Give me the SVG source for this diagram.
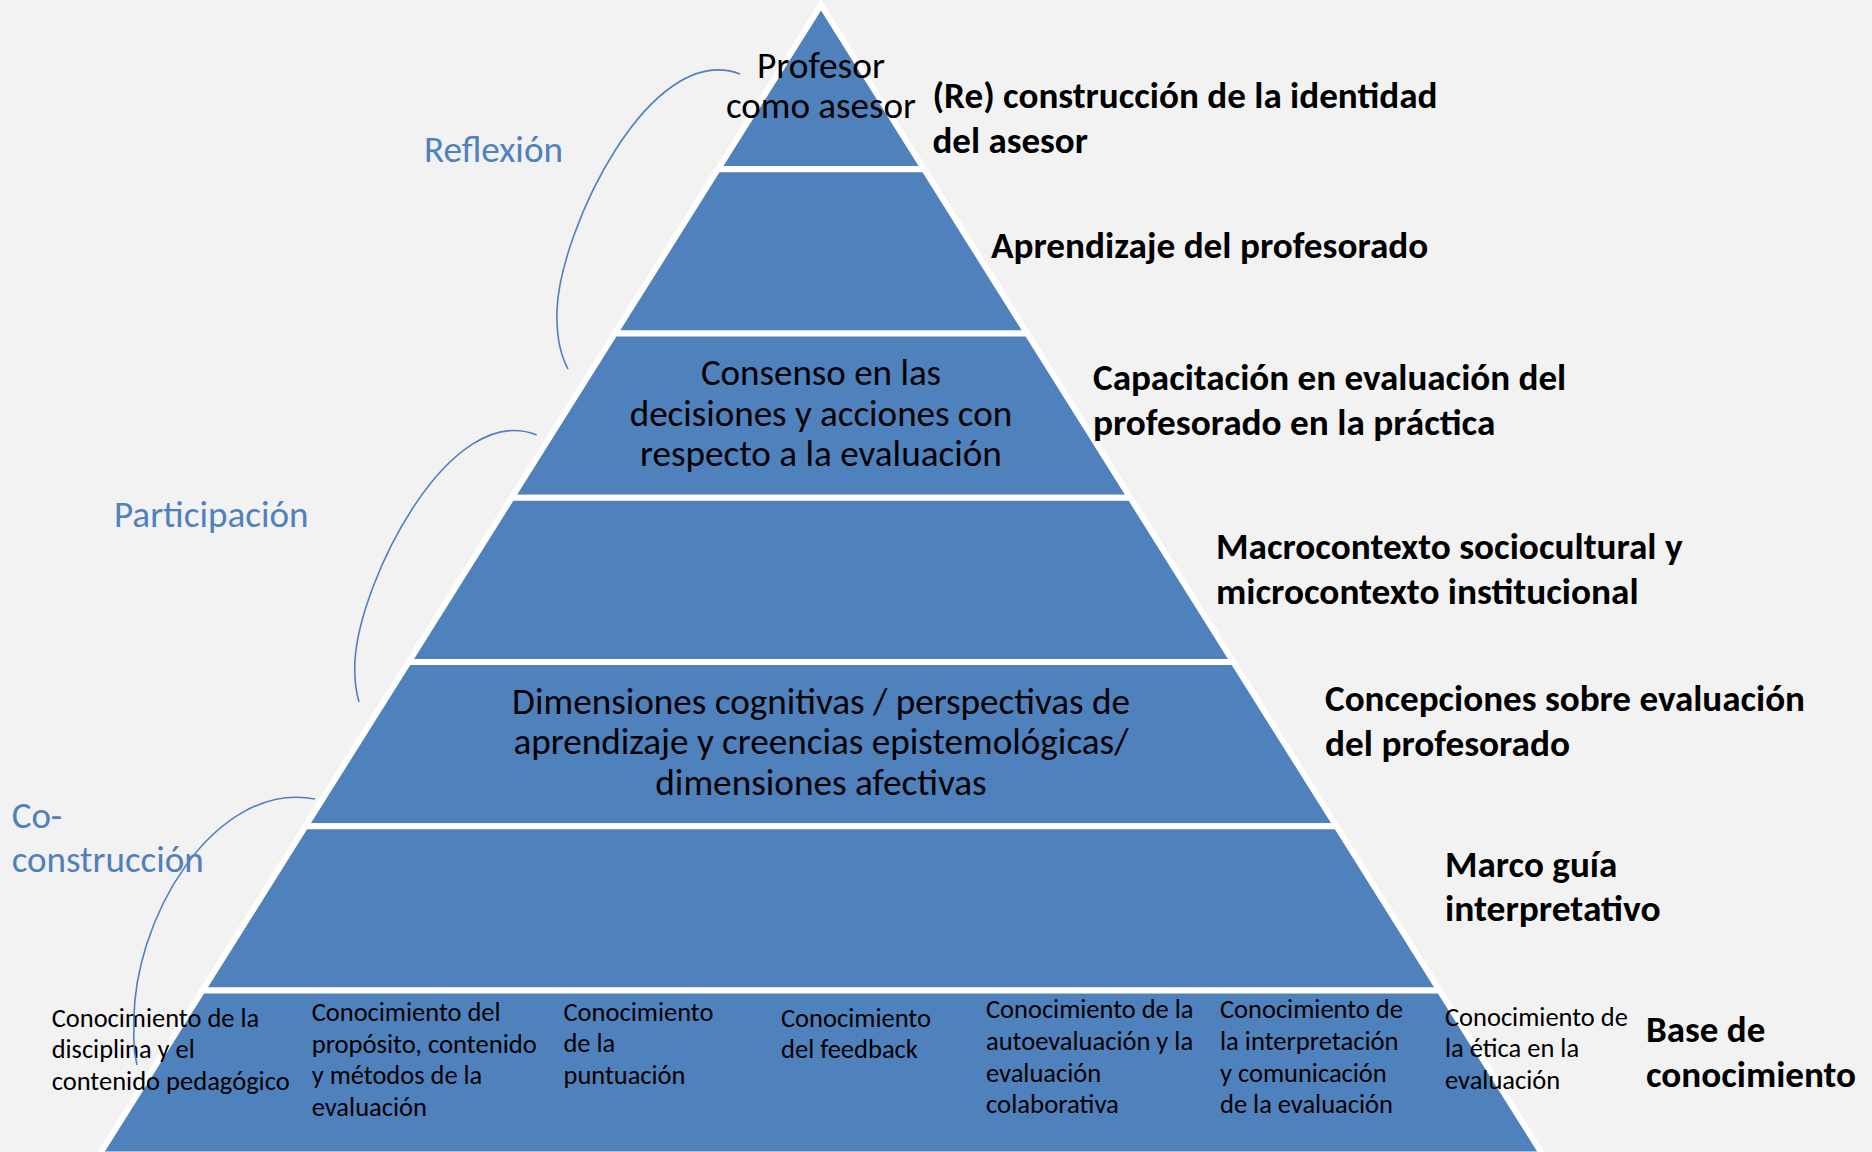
<svg xmlns="http://www.w3.org/2000/svg" width="1872" height="1152" viewBox="0 0 1872 1152">
<style>
.tier{fill:#4F81BD;stroke:#FFFFFF;stroke-width:6;stroke-linejoin:miter}
.t{font-family:Carlito,Lato,"Liberation Sans",sans-serif;fill:#000000}
.big{font-size:37px}
.bold{font-size:37px;font-weight:bold}
.small{font-size:26.4px}
.blue{font-family:Carlito,Lato,"Liberation Sans",sans-serif;font-size:37px;fill:#4F81BD}
.arc{fill:none;stroke:#4F81BD;stroke-width:1.6}
</style>
<rect x="0" y="0" width="1872" height="1152" fill="#F2F2F2"/>

<g id="tier1">
<polygon class="tier" points="821,5 924.1,169.2 717.9,169.2"/>
<text class="t big" x="756.9" y="78" textLength="128.1" lengthAdjust="spacingAndGlyphs">Profesor</text>
<text class="t big" x="725.9" y="118" textLength="190.1" lengthAdjust="spacingAndGlyphs">como asesor</text>
</g>
<g id="tier2">
<polygon class="tier" points="717.9,169.2 924.1,169.2 1027.2,333.5 614.8,333.5"/>
</g>
<g id="tier3">
<polygon class="tier" points="614.8,333.5 1027.2,333.5 1130.3,497.7 511.7,497.7"/>
<text class="t big" x="700.9" y="385" textLength="240.2" lengthAdjust="spacingAndGlyphs">Consenso en las</text>
<text class="t big" x="629.7" y="425.6" textLength="382.5" lengthAdjust="spacingAndGlyphs">decisiones y acciones con</text>
<text class="t big" x="640.1" y="466.2" textLength="361.7" lengthAdjust="spacingAndGlyphs">respecto a la evaluación</text>
</g>
<g id="tier4">
<polygon class="tier" points="511.7,497.7 1130.3,497.7 1233.3,661.9 408.7,661.9"/>
</g>
<g id="tier5">
<polygon class="tier" points="408.7,661.9 1233.3,661.9 1336.5,826.2 305.5,826.2"/>
<text class="t big" x="512.1" y="713.5" textLength="617.8" lengthAdjust="spacingAndGlyphs">Dimensiones cognitivas / perspectivas de</text>
<text class="t big" x="513.4" y="754.1" textLength="615.1" lengthAdjust="spacingAndGlyphs">aprendizaje y creencias epistemológicas/</text>
<text class="t big" x="655.3" y="794.7" textLength="331.3" lengthAdjust="spacingAndGlyphs">dimensiones afectivas</text>
</g>
<g id="tier6">
<polygon class="tier" points="305.5,826.2 1336.5,826.2 1439.5,990.4 202.5,990.4"/>
</g>
<g id="tier7">
<polygon class="tier" points="202.5,990.4 1439.5,990.4 1542.6,1154.6 99.4,1154.6"/>
</g>

<g id="kb1">
<text class="t small" x="51.7" y="1026.7" textLength="207.5" lengthAdjust="spacingAndGlyphs">Conocimiento de la</text>
<text class="t small" x="51.7" y="1058.4" textLength="143" lengthAdjust="spacingAndGlyphs">disciplina y el</text>
<text class="t small" x="51.7" y="1090.1" textLength="238" lengthAdjust="spacingAndGlyphs">contenido pedagógico</text>
</g>
<g id="kb2">
<text class="t small" x="311.7" y="1021" textLength="188.9" lengthAdjust="spacingAndGlyphs">Conocimiento del</text>
<text class="t small" x="311.7" y="1052.7" textLength="225.1" lengthAdjust="spacingAndGlyphs">propósito, contenido</text>
<text class="t small" x="311.7" y="1084.4" textLength="170.6" lengthAdjust="spacingAndGlyphs">y métodos de la</text>
<text class="t small" x="311.7" y="1116.1" textLength="115.3" lengthAdjust="spacingAndGlyphs">evaluación</text>
</g>
<g id="kb3">
<text class="t small" x="563.5" y="1020.5" textLength="149.9" lengthAdjust="spacingAndGlyphs">Conocimiento</text>
<text class="t small" x="563.5" y="1052.2" textLength="51.7" lengthAdjust="spacingAndGlyphs">de la</text>
<text class="t small" x="563.5" y="1083.9" textLength="121.9" lengthAdjust="spacingAndGlyphs">puntuación</text>
</g>
<g id="kb4">
<text class="t small" x="781" y="1026.7" textLength="149.9" lengthAdjust="spacingAndGlyphs">Conocimiento</text>
<text class="t small" x="781" y="1058.4" textLength="136.9" lengthAdjust="spacingAndGlyphs">del feedback</text>
</g>
<g id="kb5">
<text class="t small" x="986" y="1018.3" textLength="207.5" lengthAdjust="spacingAndGlyphs">Conocimiento de la</text>
<text class="t small" x="986" y="1050" textLength="207.1" lengthAdjust="spacingAndGlyphs">autoevaluación y la</text>
<text class="t small" x="986" y="1081.7" textLength="115.3" lengthAdjust="spacingAndGlyphs">evaluación</text>
<text class="t small" x="986" y="1113.4" textLength="132.9" lengthAdjust="spacingAndGlyphs">colaborativa</text>
</g>
<g id="kb6">
<text class="t small" x="1220" y="1018.3" textLength="182.8" lengthAdjust="spacingAndGlyphs">Conocimiento de</text>
<text class="t small" x="1220" y="1050" textLength="178.5" lengthAdjust="spacingAndGlyphs">la interpretación</text>
<text class="t small" x="1220" y="1081.7" textLength="166.7" lengthAdjust="spacingAndGlyphs">y comunicación</text>
<text class="t small" x="1220" y="1113.4" textLength="172.9" lengthAdjust="spacingAndGlyphs">de la evaluación</text>
</g>
<g id="kb7">
<text class="t small" x="1445" y="1025.7" textLength="182.8" lengthAdjust="spacingAndGlyphs">Conocimiento de</text>
<text class="t small" x="1445" y="1057.4" textLength="134.1" lengthAdjust="spacingAndGlyphs">la ética en la</text>
<text class="t small" x="1445" y="1089.1" textLength="115.3" lengthAdjust="spacingAndGlyphs">evaluación</text>
</g>

<g id="label-identidad">
<text class="t bold" x="932.5" y="108" textLength="504.9" lengthAdjust="spacingAndGlyphs">(Re) construcción de la identidad</text>
<text class="t bold" x="932.5" y="153" textLength="155.4" lengthAdjust="spacingAndGlyphs">del asesor</text>
</g>
<g id="label-aprendizaje">
<text class="t bold" x="991" y="258" textLength="437.3" lengthAdjust="spacingAndGlyphs">Aprendizaje del profesorado</text>
</g>
<g id="label-capacitacion">
<text class="t bold" x="1093" y="389.5" textLength="473.2" lengthAdjust="spacingAndGlyphs">Capacitación en evaluación del</text>
<text class="t bold" x="1093" y="434.5" textLength="402.4" lengthAdjust="spacingAndGlyphs">profesorado en la práctica</text>
</g>
<g id="label-contexto">
<text class="t bold" x="1216" y="558.5" textLength="466.6" lengthAdjust="spacingAndGlyphs">Macrocontexto sociocultural y</text>
<text class="t bold" x="1216" y="603.5" textLength="422.6" lengthAdjust="spacingAndGlyphs">microcontexto institucional</text>
</g>
<g id="label-concepciones">
<text class="t bold" x="1325" y="711" textLength="480" lengthAdjust="spacingAndGlyphs">Concepciones sobre evaluación</text>
<text class="t bold" x="1325" y="755.5" textLength="245" lengthAdjust="spacingAndGlyphs">del profesorado</text>
</g>
<g id="label-marco">
<text class="t bold" x="1445" y="876.5" textLength="172.3" lengthAdjust="spacingAndGlyphs">Marco guía</text>
<text class="t bold" x="1445" y="921" textLength="215.6" lengthAdjust="spacingAndGlyphs">interpretativo</text>
</g>
<g id="label-base">
<text class="t bold" x="1646" y="1041.7" textLength="119.3" lengthAdjust="spacingAndGlyphs">Base de</text>
<text class="t bold" x="1646" y="1086.7" textLength="210.1" lengthAdjust="spacingAndGlyphs">conocimiento</text>
</g>

<g id="phase-reflexion">
<text class="blue" x="424" y="161.7" textLength="139" lengthAdjust="spacingAndGlyphs">Reflexión</text>
</g>
<g id="phase-participacion">
<text class="blue" x="114" y="526.7" textLength="194.5" lengthAdjust="spacingAndGlyphs">Participación</text>
</g>
<g id="phase-coconstruccion">
<text class="blue" x="11.7" y="828.3" textLength="50.5" lengthAdjust="spacingAndGlyphs">Co-</text>
<text class="blue" x="11.7" y="871.7" textLength="192" lengthAdjust="spacingAndGlyphs">construcción</text>
</g>

<g id="connectors">
<path class="arc" d="M740,74 C650,40 560,230 557,310 C556,340 562,358 568,369"/>
<path class="arc" d="M536.7,435 C450,400 360,580 355,660 C354,680 356,692 359,702"/>
<path class="arc" d="M315,799 C215,780 130,920 134,1030 C133,1045 135,1057 137,1065"/>
</g>
</svg>
